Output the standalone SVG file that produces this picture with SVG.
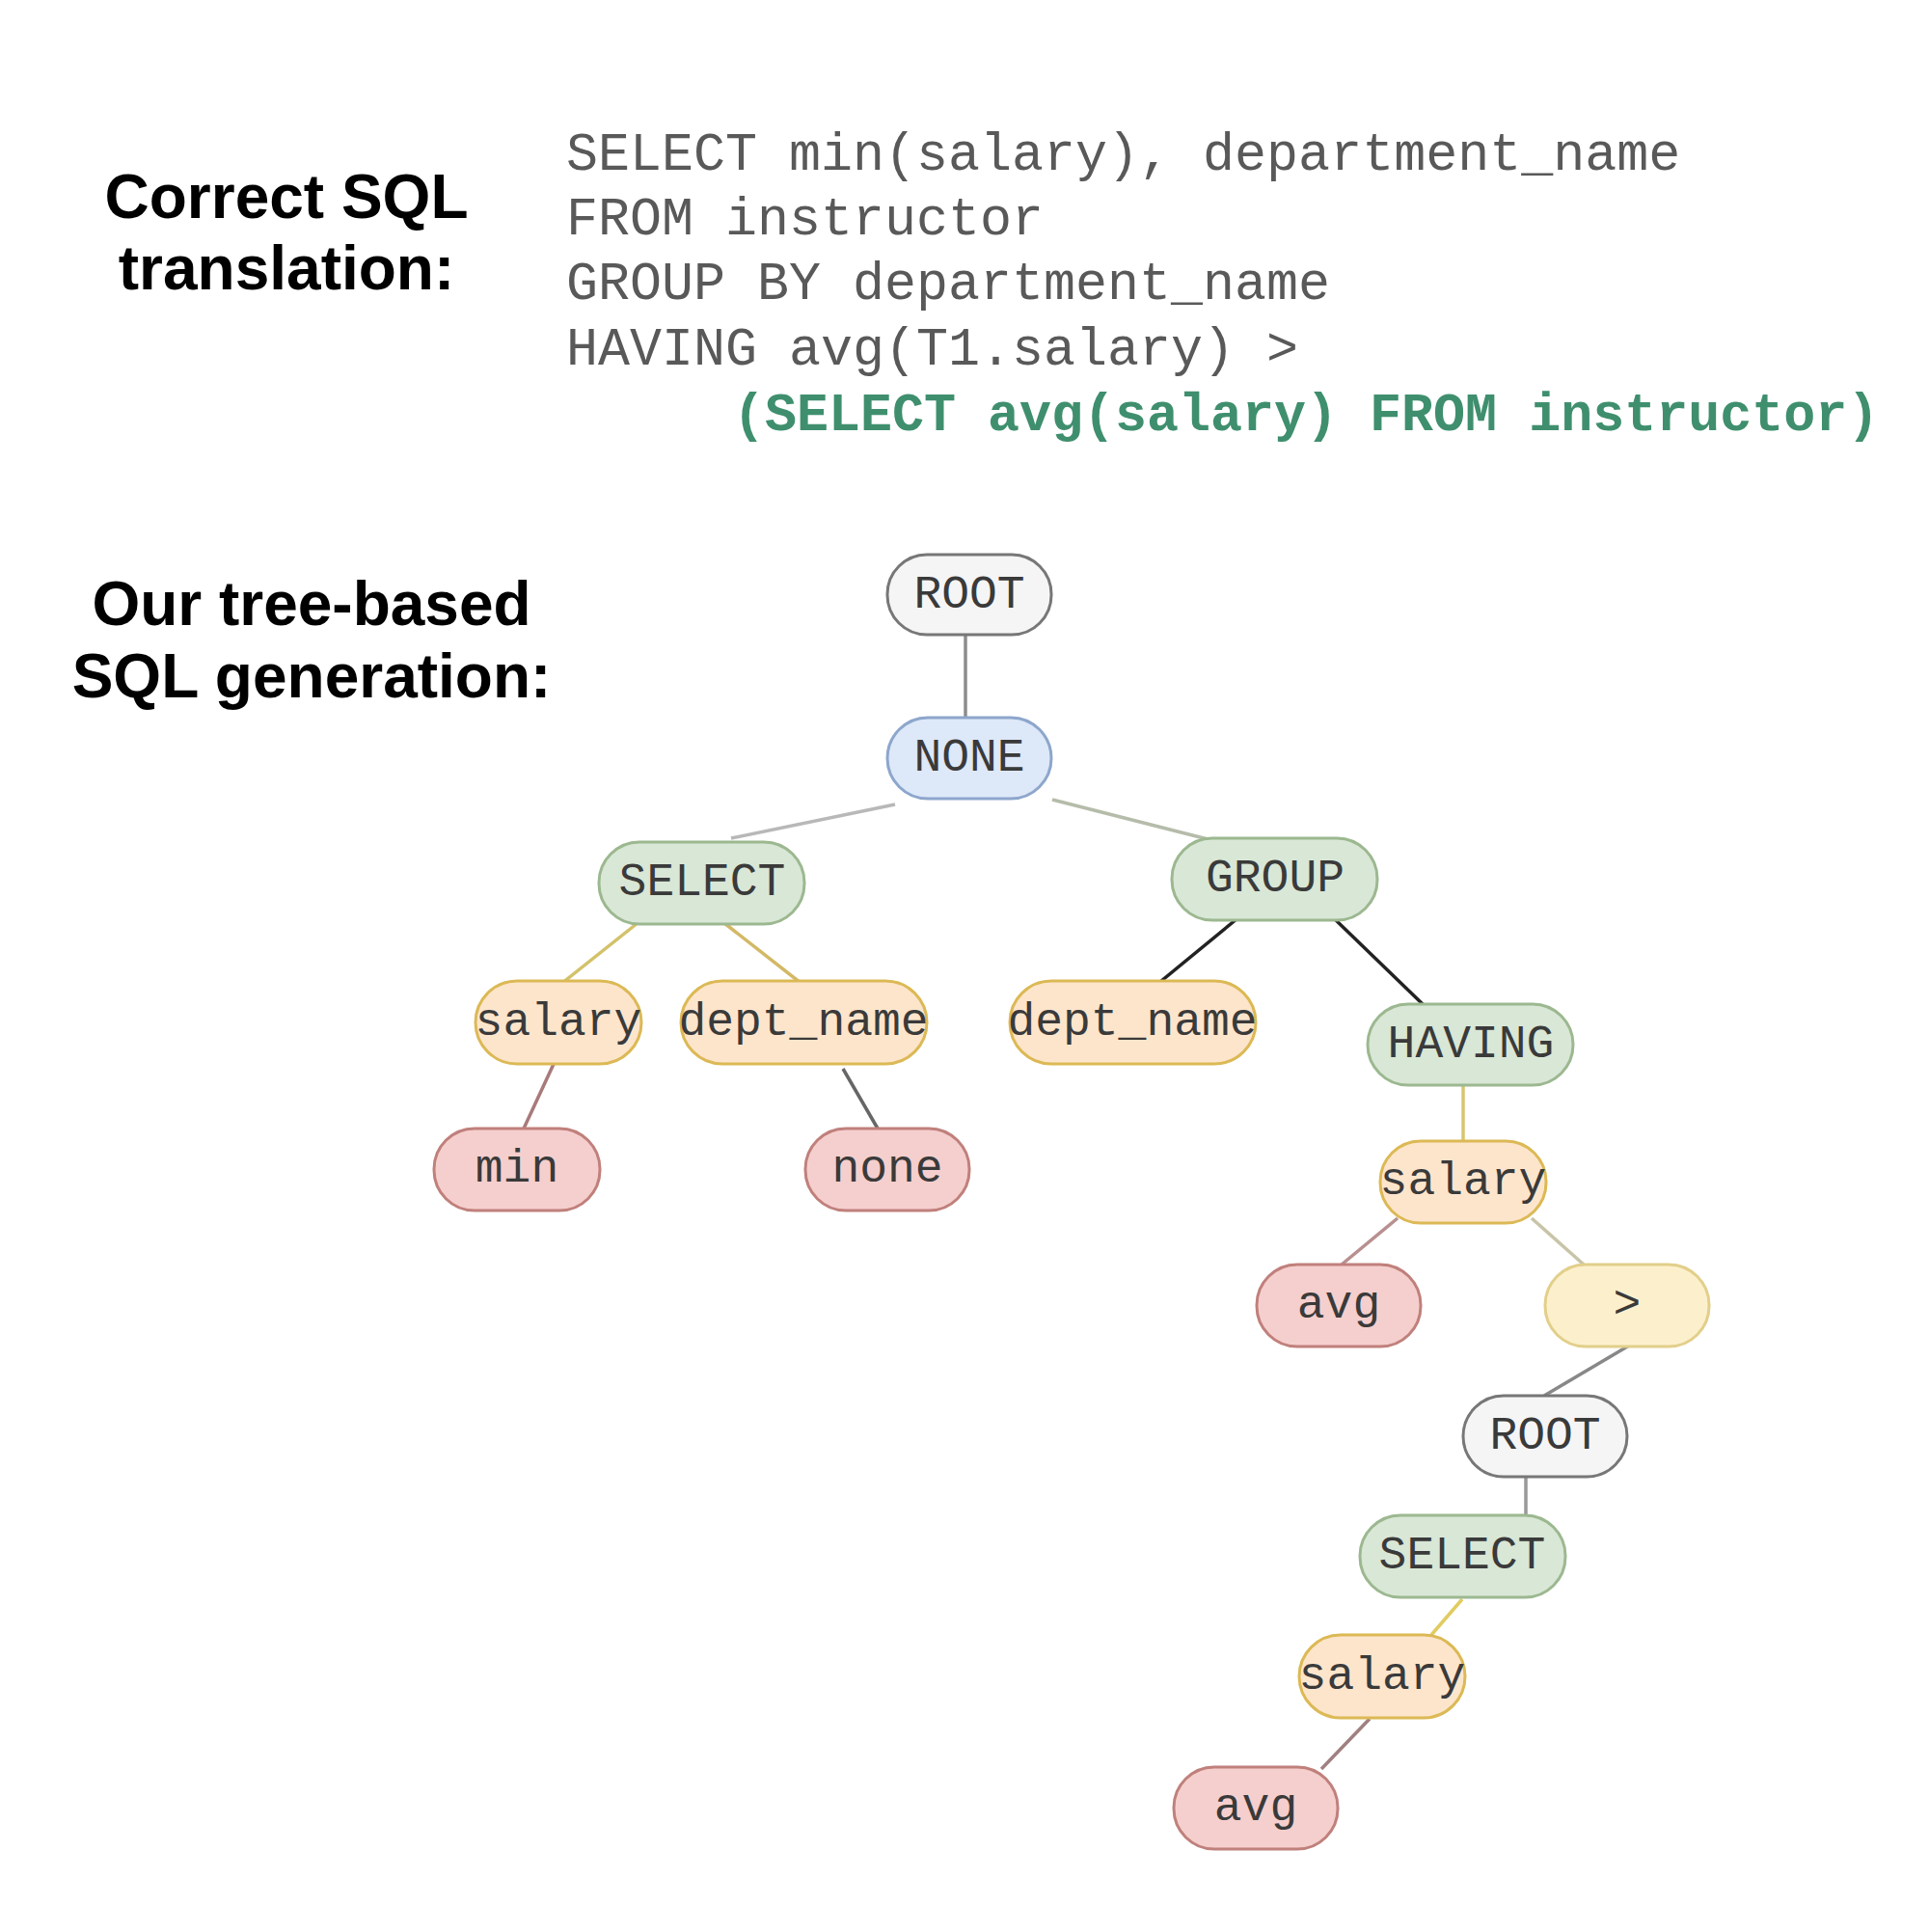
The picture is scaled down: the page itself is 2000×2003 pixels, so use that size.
<svg xmlns="http://www.w3.org/2000/svg" width="2000" height="2003" viewBox="0 0 2000 2003">
<style>
.head{font-family:"Liberation Sans",Arial,sans-serif;font-weight:bold;font-size:64px;fill:#000;text-anchor:middle}
.code{font-family:"Liberation Mono","Courier New",monospace;font-size:55px;fill:#595959;white-space:pre}
.sub{font-family:"Liberation Mono","Courier New",monospace;font-size:55px;font-weight:bold;fill:#3f8f6e;white-space:pre}
.n rect{stroke-width:3}
.n text{font-family:"Liberation Mono","Courier New",monospace;font-size:48px;fill:#3a3a3a;text-anchor:middle;dominant-baseline:central}
.root rect{fill:#f5f5f5;stroke:#777}
.none rect{fill:#dde8f8;stroke:#8da6cc}
.kw rect{fill:#d9e7d6;stroke:#9cb890}
.col rect{fill:#fde5cc;stroke:#dcb955}
.agg rect{fill:#f5cfcd;stroke:#c0807c}
.op rect{fill:#fcf0cc;stroke:#e2cf8a}
#edges line{stroke-width:3.5}
</style>
<rect width="2000" height="2003" fill="#fff"/>
<g id="titles">
<text class="head" x="297" y="226">Correct SQL</text>
<text class="head" x="297" y="300">translation:</text>
<text class="head" x="323" y="648">Our tree-based</text>
<text class="head" x="323" y="723">SQL generation:</text>
</g>
<g id="sql">
<text class="code" x="587" y="176">SELECT min(salary), department_name</text>
<text class="code" x="587" y="243">FROM instructor</text>
<text class="code" x="587" y="310">GROUP BY department_name</text>
<text class="code" x="587" y="378">HAVING avg(T1.salary) &gt;</text>
<text class="sub" x="760" y="446">(SELECT avg(salary) FROM instructor)</text>
</g>
<g transform="translate(-3,-2)">
<g id="edges">
<line x1="1004" y1="660" x2="1004" y2="745" stroke="#8c8c8c"/>
<line x1="931" y1="836" x2="761" y2="871" stroke="#b8b8b8"/>
<line x1="1094" y1="831" x2="1263" y2="874" stroke="#b5bcaa"/>
<line x1="664" y1="959" x2="586" y2="1021" stroke="#d3c26a"/>
<line x1="754" y1="959" x2="833" y2="1021" stroke="#d3b866"/>
<line x1="1285" y1="955" x2="1207" y2="1019" stroke="#222"/>
<line x1="1387" y1="955" x2="1478" y2="1043" stroke="#222"/>
<line x1="578" y1="1103" x2="546" y2="1172" stroke="#a87a7a"/>
<line x1="877" y1="1110" x2="913" y2="1172" stroke="#666"/>
<line x1="1520" y1="1127" x2="1520" y2="1185" stroke="#d8c670"/>
<line x1="1452" y1="1265" x2="1394" y2="1313" stroke="#b89090"/>
<line x1="1591" y1="1265" x2="1645" y2="1313" stroke="#c8c4a8"/>
<line x1="1692" y1="1397" x2="1604" y2="1449" stroke="#888"/>
<line x1="1585" y1="1533" x2="1585" y2="1573" stroke="#999"/>
<line x1="1519" y1="1660" x2="1487" y2="1697" stroke="#e0cc60"/>
<line x1="1423" y1="1784" x2="1373" y2="1836" stroke="#a08080"/>
</g>
<g id="n-root" class="n root"><rect x="923" y="577" width="170" height="83" rx="41"/><text x="1008" y="619">ROOT</text></g>
<g id="n-none" class="n none"><rect x="923" y="746" width="170" height="84" rx="42"/><text x="1008" y="788">NONE</text></g>
<g id="n-select" class="n kw"><rect x="624" y="875" width="213" height="85" rx="42"/><text x="731" y="917">SELECT</text></g>
<g id="n-group" class="n kw"><rect x="1218" y="871" width="213" height="85" rx="42"/><text x="1325" y="913">GROUP</text></g>
<g id="n-salary1" class="n col"><rect x="496" y="1019" width="172" height="86" rx="43"/><text x="582" y="1062">salary</text></g>
<g id="n-dept1" class="n col"><rect x="709" y="1019" width="255" height="86" rx="43"/><text x="836" y="1062">dept_name</text></g>
<g id="n-dept2" class="n col"><rect x="1050" y="1019" width="255" height="86" rx="43"/><text x="1177" y="1062">dept_name</text></g>
<g id="n-having" class="n kw"><rect x="1421" y="1043" width="213" height="84" rx="42"/><text x="1528" y="1085">HAVING</text></g>
<g id="n-min" class="n agg"><rect x="453" y="1172" width="172" height="85" rx="42"/><text x="539" y="1214">min</text></g>
<g id="n-none2" class="n agg"><rect x="838" y="1172" width="170" height="85" rx="42"/><text x="923" y="1214">none</text></g>
<g id="n-salary2" class="n col"><rect x="1434" y="1185" width="172" height="85" rx="42"/><text x="1520" y="1227">salary</text></g>
<g id="n-avg1" class="n agg"><rect x="1306" y="1313" width="170" height="85" rx="42"/><text x="1391" y="1355">avg</text></g>
<g id="n-gt" class="n op"><rect x="1605" y="1313" width="170" height="85" rx="42"/><text x="1690" y="1355">&gt;</text></g>
<g id="n-root2" class="n root"><rect x="1520" y="1449" width="170" height="84" rx="42"/><text x="1605" y="1491">ROOT</text></g>
<g id="n-select2" class="n kw"><rect x="1413" y="1573" width="213" height="85" rx="42"/><text x="1519" y="1615">SELECT</text></g>
<g id="n-salary3" class="n col"><rect x="1350" y="1697" width="172" height="86" rx="43"/><text x="1436" y="1740">salary</text></g>
<g id="n-avg2" class="n agg"><rect x="1220" y="1834" width="170" height="85" rx="42"/><text x="1305" y="1876">avg</text></g>
</g>
</svg>
